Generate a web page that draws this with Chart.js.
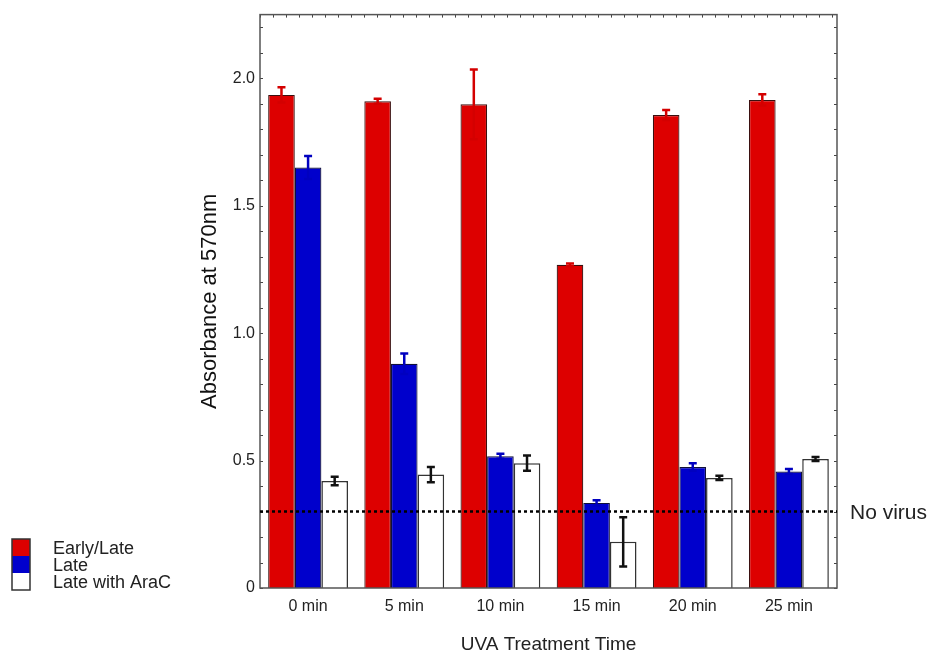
<!DOCTYPE html>
<html>
<head>
<meta charset="utf-8">
<script src="https://cdn.jsdelivr.net/npm/chart.js@4"></script>
<style>
  body { margin: 0; background: #fff; }
  #wrap { width: 936px; height: 660px; }
</style>
</head>
<body>
<div id="wrap"><canvas id="uvaChart"></canvas></div>
<script>
// data
const times = ["0 min", "5 min", "10 min", "15 min", "20 min", "25 min"];
const earlyLate = [1.935, 1.91, 1.898, 1.268, 1.856, 1.915];
const earlyLateErr = [0.03, 0.01, 0.137, 0.005, 0.02, 0.022];
const late = [1.65, 0.88, 0.517, 0.334, 0.475, 0.457];
const lateErr = [0.045, 0.04, 0.01, 0.01, 0.015, 0.01];
const lateAraC = [0.42, 0.445, 0.49, 0.181, 0.432, 0.506];
const lateAraCErr = [0.017, 0.03, 0.03, 0.097, 0.008, 0.008];
const noVirus = 0.3;
const yTicks = [0, 0.5, 1.0, 1.5, 2.0];

const FONT = "'Liberation Sans', Arial, sans-serif";

// error bars, same colour as the bar (black for the white ones)
const errorBars = {
  id: "errorBars",
  afterDatasetsDraw(chart) {
    const ctx = chart.ctx;
    const y = chart.scales.y;
    chart.data.datasets.forEach((ds, i) => {
      const meta = chart.getDatasetMeta(i);
      ctx.save();
      ctx.strokeStyle = ds.errColor;
      ctx.lineWidth = 2.5;
      meta.data.forEach((bar, j) => {
        const v = ds.data[j], e = ds.err[j];
        const top = y.getPixelForValue(v + e);
        const bot = y.getPixelForValue(v - e);
        ctx.beginPath();
        ctx.moveTo(bar.x, top); ctx.lineTo(bar.x, bot);
        ctx.moveTo(bar.x - 4, top); ctx.lineTo(bar.x + 4, top);
        ctx.moveTo(bar.x - 4, bot); ctx.lineTo(bar.x + 4, bot);
        ctx.stroke();
      });
      ctx.restore();
    });
  }
};

// frame, minor ticks, "No virus" line, legend at the lower left
const extras = {
  id: "extras",
  beforeDatasetsDraw(chart) {
    const { ctx, chartArea: a, scales } = chart;
    ctx.save();
    ctx.strokeStyle = "#444";
    ctx.lineWidth = 1;
    for (let v = 0; v <= 2.25; v += 0.1) {
      const py = Math.round(scales.y.getPixelForValue(v)) + 0.5;
      ctx.beginPath();
      ctx.moveTo(a.left, py); ctx.lineTo(a.left + 3, py);
      ctx.moveTo(a.right, py); ctx.lineTo(a.right - 3, py);
      ctx.stroke();
    }
    for (let px = a.left; px <= a.right; px += 13) {
      ctx.beginPath();
      ctx.moveTo(px + 0.5, a.top); ctx.lineTo(px + 0.5, a.top + 3);
      ctx.stroke();
    }
    ctx.restore();
  },
  afterDraw(chart) {
    const { ctx, chartArea: a, scales } = chart;
    ctx.save();
    // frame
    ctx.strokeStyle = "#555";
    ctx.lineWidth = 1.5;
    ctx.strokeRect(a.left, a.top, a.right - a.left, a.bottom - a.top);
    // no virus line
    const py = scales.y.getPixelForValue(noVirus);
    ctx.strokeStyle = "#000";
    ctx.lineWidth = 2.5;
    ctx.setLineDash([3, 3]);
    ctx.beginPath();
    ctx.moveTo(a.left, py); ctx.lineTo(a.right, py);
    ctx.stroke();
    ctx.setLineDash([]);
    ctx.fillStyle = "#222";
    ctx.font = "21px " + FONT;
    ctx.textBaseline = "middle";
    ctx.fillText("No virus", a.right + 13, py + 2);
    // legend
    ctx.font = "18px " + FONT;
    chart.data.datasets.forEach((ds, i) => {
      const by = 539 + i * 17;
      ctx.fillStyle = ds.backgroundColor;
      ctx.fillRect(12, by, 18, 17);
      ctx.fillStyle = "#222";
      ctx.fillText(ds.label, 53, by + 10);
    });
    ctx.strokeStyle = "#333";
    ctx.lineWidth = 1.5;
    ctx.strokeRect(12, 539, 18, 51);
    ctx.restore();
  }
};

new Chart(document.getElementById("uvaChart"), {
  type: "bar",
  data: {
    labels: times,
    datasets: [
      { label: "Early/Late", data: earlyLate, err: earlyLateErr, backgroundColor: "#dd0000", borderColor: "#3a1010", errColor: "#d40000", borderWidth: 1.2 },
      { label: "Late", data: late, err: lateErr, backgroundColor: "#0000cc", borderColor: "#10103a", errColor: "#0000c0", borderWidth: 1.2 },
      { label: "Late with AraC", data: lateAraC, err: lateAraCErr, backgroundColor: "#ffffff", borderColor: "#333333", errColor: "#111111", borderWidth: 1.5 }
    ]
  },
  options: {
    responsive: true,
    maintainAspectRatio: false,
    animation: false,
    layout: { padding: { left: 195, right: 99, top: 12, bottom: 0 } },
    datasets: { bar: { categoryPercentage: 0.83, barPercentage: 1.0, borderSkipped: "bottom" } },
    plugins: { legend: { display: false }, tooltip: { enabled: false } },
    scales: {
      x: {
        grid: { display: false, drawTicks: false },
        border: { display: false },
        ticks: { color: "#222", font: { family: FONT, size: 16 }, padding: 9 },
        title: { display: true, text: "UVA Treatment Time", color: "#222", font: { family: FONT, size: 19 }, padding: { top: 16 } },
        afterFit(s) { s.height = 72; }
      },
      y: {
        min: 0,
        max: 2.25,
        grid: { display: false, drawTicks: false },
        border: { display: false },
        afterBuildTicks(s) { s.ticks = yTicks.map(v => ({ value: v })); },
        ticks: {
          color: "#222",
          font: { family: FONT, size: 16 },
          padding: 5,
          callback: v => v === 0 ? "0" : v.toFixed(1)
        },
        title: { display: true, text: "Absorbance at 570nm", color: "#111", font: { family: FONT, size: 22 }, padding: { top: 2, bottom: 4 } },
        afterFit(s) { s.width = 65; }
      }
    }
  },
  plugins: [extras, errorBars]
});
</script>
</body>
</html>
